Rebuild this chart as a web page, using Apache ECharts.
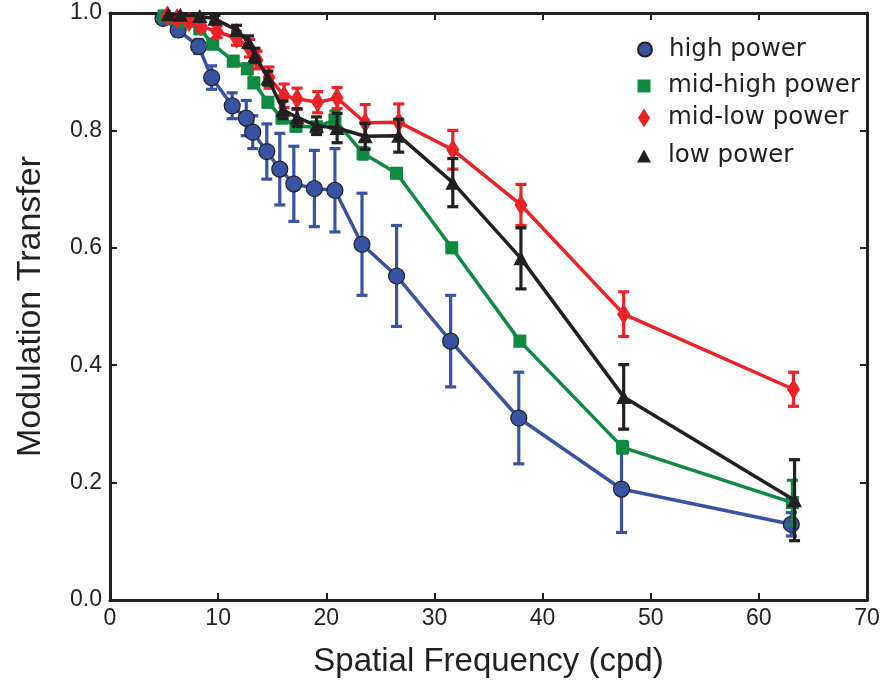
<!DOCTYPE html>
<html>
<head>
<meta charset="utf-8">
<script src="https://cdn.jsdelivr.net/npm/echarts@6/dist/echarts.min.js"></script>
<style>html,body{margin:0;padding:0;background:#fff;overflow:hidden;width:883px;height:681px}#c{display:block;width:883px;height:681px;overflow:hidden}</style>
</head>
<body>
<div id="c"></div>
<script>
// ---- data ----
const seriesNames = ['high power', 'mid-high power', 'mid-low power', 'low power'];
const xTicks = [0, 10, 20, 30, 40, 50, 60, 70];
const yTicks = ['0.0', '0.2', '0.4', '0.6', '0.8', '1.0'];

const xHigh = [4.9, 6.3, 8.2, 9.4, 11.3, 12.6, 13.2, 14.5, 15.7, 17.0, 18.9, 20.8, 23.3, 26.5, 31.5, 37.8, 47.3, 63.0];
const yHigh = [0.991, 0.971, 0.943, 0.890, 0.842, 0.821, 0.797, 0.764, 0.734, 0.709, 0.701, 0.698, 0.606, 0.552, 0.441, 0.310, 0.189, 0.129];
const eHigh = [0.008, 0.010, 0.012, 0.020, 0.022, 0.030, 0.028, 0.047, 0.061, 0.064, 0.065, 0.071, 0.087, 0.086, 0.078, 0.078, 0.074, 0.020];

const xMidHigh = [5.0, 5.8, 6.8, 8.3, 9.5, 11.4, 12.7, 13.3, 14.6, 15.9, 17.2, 19.1, 20.8, 23.4, 26.5, 31.6, 37.9, 47.4, 63.1];
const yMidHigh = [0.995, 0.990, 0.985, 0.973, 0.947, 0.918, 0.905, 0.881, 0.848, 0.821, 0.807, 0.806, 0.818, 0.761, 0.727, 0.600, 0.441, 0.260, 0.166];
const eMidHigh = [0.006, 0.006, 0.006, 0.008, 0.008, 0.008, 0.008, 0.008, 0.008, 0.008, 0.008, 0.008, 0.015, 0.010, 0.008, 0.008, 0.008, 0.010, 0.038];

const xMidLow = [5.3, 6.2, 7.3, 8.4, 9.9, 11.7, 12.9, 13.6, 14.7, 16.1, 17.3, 19.2, 21.0, 23.6, 26.7, 31.7, 38.0, 47.5, 63.2];
const yMidLow = [0.995, 0.990, 0.985, 0.978, 0.968, 0.957, 0.940, 0.920, 0.890, 0.859, 0.854, 0.848, 0.855, 0.813, 0.814, 0.767, 0.673, 0.487, 0.359];
const eMidLow = [0.005, 0.005, 0.005, 0.008, 0.010, 0.012, 0.015, 0.015, 0.018, 0.020, 0.018, 0.018, 0.018, 0.031, 0.031, 0.033, 0.035, 0.038, 0.029];

const xLow = [5.4, 6.5, 8.3, 9.7, 11.7, 12.8, 13.4, 14.6, 16.0, 17.3, 19.1, 21.0, 23.6, 26.7, 31.7, 38.0, 47.5, 63.3];
const yLow = [0.998, 0.997, 0.995, 0.990, 0.971, 0.951, 0.928, 0.889, 0.835, 0.822, 0.808, 0.804, 0.790, 0.791, 0.711, 0.582, 0.346, 0.170];
const eLow = [0.005, 0.005, 0.005, 0.006, 0.008, 0.010, 0.012, 0.012, 0.015, 0.015, 0.015, 0.025, 0.022, 0.028, 0.041, 0.052, 0.055, 0.069];

// ---- styling ----
const colors = ['#3953a4', '#0f8a41', '#ec2227', '#231f20'];
const ink = '#231f20';
const sets = [
  {x: xHigh, y: yHigh, e: eHigh, symbol: 'circle', size: 16, border: true, lw: [14, 14], cy: 44},
  {x: xMidHigh, y: yMidHigh, e: eMidHigh, symbol: 'rect', size: 13, border: false, lw: [13, 13], cy: 80},
  {x: xMidLow, y: yMidLow, e: eMidLow, symbol: 'diamond', size: [13, 21], border: false, lw: [12, 19], cy: 115},
  {x: xLow, y: yLow, e: eLow, symbol: 'triangle', size: [15, 14], border: false, lw: [14, 13], cy: 150}
];

function pts(xs, ys) { return xs.map((v, i) => [v, ys[i]]); }
function errs(xs, ys, es) { return xs.map((v, i) => [v, ys[i] - es[i], ys[i] + es[i]]); }

const series = [];
sets.forEach((s, k) => {
  const col = colors[k];
  series.push({
    type: 'custom',
    name: 'err' + k,
    z: 2 * k + 1,
    clip: true,
    data: errs(s.x, s.y, s.e),
    encode: {x: 0, y: [1, 2]},
    renderItem: function (params, api) {
      const xv = api.value(0);
      const lo = api.coord([xv, api.value(1)]);
      const hi = api.coord([xv, api.value(2)]);
      const hw = 5.5;
      const st = {stroke: col, lineWidth: 3.2};
      return {
        type: 'group',
        children: [
          {type: 'line', shape: {x1: lo[0], y1: lo[1], x2: hi[0], y2: hi[1]}, style: st},
          {type: 'line', shape: {x1: lo[0] - hw, y1: lo[1], x2: lo[0] + hw, y2: lo[1]}, style: st},
          {type: 'line', shape: {x1: hi[0] - hw, y1: hi[1], x2: hi[0] + hw, y2: hi[1]}, style: st}
        ]
      };
    },
    silent: true
  });
  series.push({
    type: 'line',
    name: seriesNames[k],
    z: 2 * k + 2,
    data: pts(s.x, s.y),
    symbol: s.symbol,
    symbolSize: s.size,
    showAllSymbol: true,
    lineStyle: {color: col, width: 3.5},
    itemStyle: {color: col, borderColor: s.border ? ink : col, borderWidth: s.border ? 1.2 : 0, opacity: 1},
    emphasis: {disabled: true},
    animation: false
  });
});

const legends = sets.map((s, k) => {
  const left = 644 - s.lw[0] / 2;
  return {
    data: [{name: seriesNames[k], icon: s.symbol}],
    left: left,
    top: s.cy - s.lw[1] / 2,
    padding: 0,
    itemWidth: s.lw[0],
    itemHeight: s.lw[1],
    selectedMode: false,
    textStyle: {
      fontFamily: 'DejaVu Sans',
      fontSize: 24.5,
      color: ink,
      padding: [0, 0, 0, 668 - (left + s.lw[0] + 5)]
    }
  };
});

const axisLineStyle = {onZero: false, lineStyle: {color: ink, width: 3}};
const tickStyle = {inside: true, length: 7, lineStyle: {color: ink, width: 2}};

const option = {
  animation: false,
  backgroundColor: '#fff',
  grid: {left: 110, right: 16, top: 13, bottom: 81, containLabel: false, outerBoundsMode: 'none'},
  legend: legends,
  xAxis: [{
    type: 'value', min: xTicks[0], max: xTicks[xTicks.length - 1], interval: 10,
    position: 'bottom',
    name: 'Spatial Frequency (cpd)', nameLocation: 'middle', nameGap: 45,
    nameTextStyle: {fontFamily: 'Liberation Sans', fontSize: 33, color: ink},
    axisLine: axisLineStyle, axisTick: tickStyle,
    axisLabel: {fontFamily: 'Liberation Sans', fontSize: 23, color: ink, margin: 7},
    splitLine: {show: false}
  }, {
    type: 'value', min: xTicks[0], max: xTicks[xTicks.length - 1], interval: 10,
    position: 'top',
    axisLine: axisLineStyle, axisTick: tickStyle,
    axisLabel: {show: false}, splitLine: {show: false}
  }],
  yAxis: [{
    type: 'value', min: 0, max: 1, interval: 0.2,
    position: 'left',
    name: 'Modulation Transfer', nameLocation: 'middle', nameGap: 62,
    nameTextStyle: {fontFamily: 'Liberation Sans', fontSize: 34, color: ink},
    axisLine: axisLineStyle, axisTick: tickStyle,
    axisLabel: {fontFamily: 'Liberation Sans', fontSize: 23, color: ink, margin: 8,
      formatter: function (v) { return yTicks[Math.round(v / 0.2)]; }},
    splitLine: {show: false}
  }, {
    type: 'value', min: 0, max: 1, interval: 0.2,
    position: 'right',
    axisLine: axisLineStyle, axisTick: tickStyle,
    axisLabel: {show: false}, splitLine: {show: false}
  }],
  series: series
};

const chart = echarts.init(document.getElementById('c'), null, {renderer: 'canvas', width: 883, height: 681});
chart.setOption(option);
</script>
</body>
</html>
